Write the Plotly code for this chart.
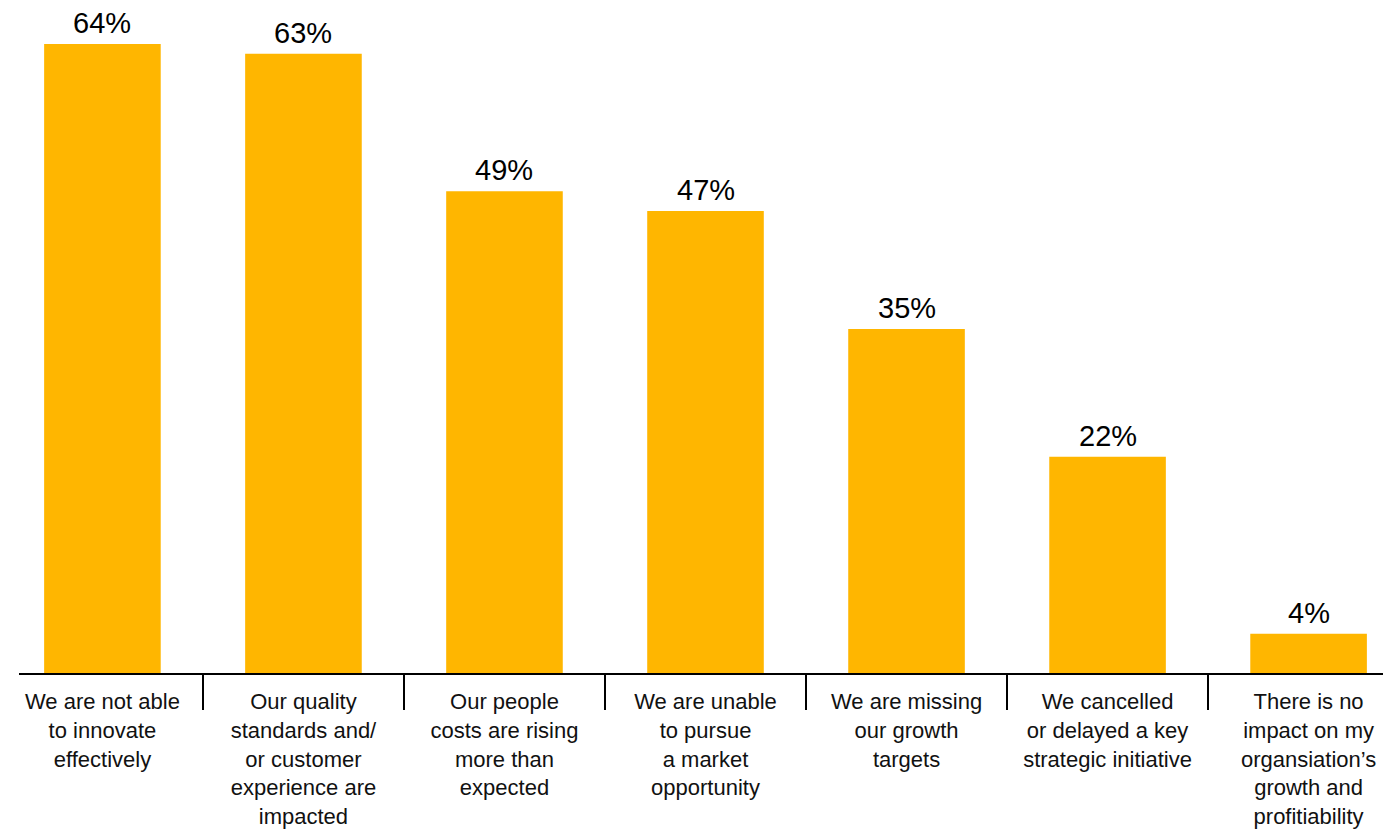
import plotly.graph_objects as go

categories = [
    "We are not able<br>to innovate<br>effectively",
    "Our quality<br>standards and/<br>or customer<br>experience are<br>impacted",
    "Our people<br>costs are rising<br>more than<br>expected",
    "We are unable<br>to pursue<br>a market<br>opportunity",
    "We are missing<br>our growth<br>targets",
    "We cancelled<br>or delayed a key<br>strategic initiative",
    "There is no<br>impact on my<br>organsiation’s<br>growth and<br>profitiability",
]
values = [64, 63, 49, 47, 35, 22, 4]
value_labels = ["64%", "63%", "49%", "47%", "35%", "22%", "4%"]

FONT = "Liberation Sans, Arial, Helvetica, sans-serif"

fig = go.Figure()
fig.add_trace(go.Bar(
    x=categories,
    y=values,
    marker=dict(color="#FFB600", line=dict(width=0)),
    width=0.58,
    hoverinfo="skip",
))

for c, v, t in zip(categories, values, value_labels):
    fig.add_annotation(
        x=c, y=v, text=t, showarrow=False,
        yanchor="bottom", yshift=3,
        font=dict(family=FONT, size=29, color="#000000"),
    )

fig.update_layout(
    width=1383, height=822,
    margin=dict(l=11, r=0, t=0, b=157),
    paper_bgcolor="white", plot_bgcolor="white",
    showlegend=False,
    font=dict(family=FONT, size=22, color="#000000"),
)
fig.update_xaxes(
    range=[-0.415, 6.41],
    showline=True, linecolor="#000000", linewidth=2,
    ticks="outside", tickson="boundaries", ticklen=35, tickwidth=2,
    tickcolor="#000000",
    ticklabelstandoff=8,
    tickfont=dict(family=FONT, size=22, color="#111111"),
    showgrid=False, zeroline=False, automargin=False,
)
fig.update_yaxes(
    range=[0, 67.65],
    visible=False, showgrid=False, zeroline=False,
)

fig.write_html("out.html")
